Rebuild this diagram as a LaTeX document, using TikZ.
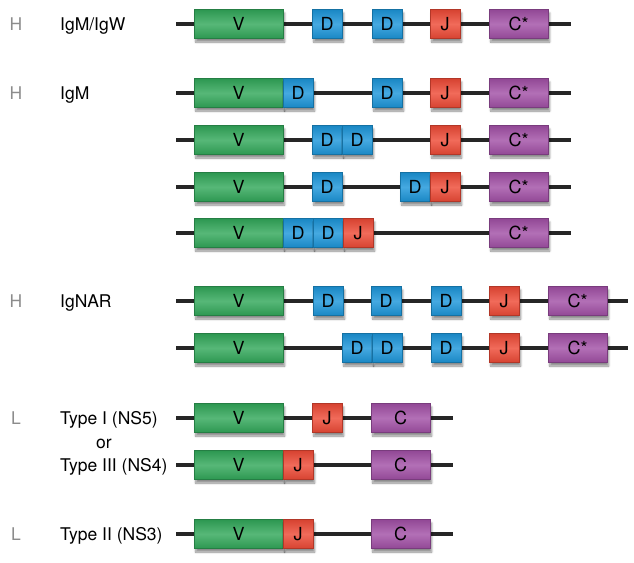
\documentclass[tikz,border=0pt]{standalone}
\usepackage{fontspec}
\setmainfont{TeX Gyre Heros}
\usetikzlibrary{shadows.blur}
\definecolor{vgreen}{RGB}{50,168,90}
\definecolor{dblue}{RGB}{28,150,218}
\definecolor{jred}{RGB}{238,74,54}
\definecolor{cpurple}{RGB}{162,80,166}
\begin{document}
\begin{tikzpicture}[x=1pt,y=-1pt,
		seg/.style={minimum height=29pt, inner sep=0pt, anchor=west, draw=#1!75!black, line width=0.4pt,
			top color=#1!90!black, bottom color=#1!90!black, middle color=#1!82!white,
			blur shadow={shadow xshift=1.5pt, shadow yshift=-3.5pt, shadow blur steps=7, shadow opacity=45},
			font=\fontsize{18}{18}\selectfont},
		vseg/.style={seg=vgreen, minimum width=89pt},
		dseg/.style={seg=dblue, minimum width=30pt},
		jseg/.style={seg=jred, minimum width=30pt},
		cseg/.style={seg=cpurple, minimum width=59pt},
		backbone/.style={line width=3.6pt, color=black!85},
		chain/.style={anchor=base west, inner sep=0pt, font=\fontsize{17.5}{20}\selectfont},
		locus/.style={anchor=base, inner sep=0pt, text=black!45, font=\fontsize{17.5}{20}\selectfont}]
	\useasboundingbox (0,0) rectangle (634,562);
	% row 1: IgM/IgW
	\coordinate (r1s) at (176,24); \coordinate (r1e) at (571,24);
	\draw[backbone] (r1s) -- (r1e);
	\node[vseg] (r1v) at (194,24) {V};
	\node[dseg] (r1d1) at (312,24) {D};
	\node[dseg] (r1d2) at (372,24) {D};
	\node[jseg] (r1j) at (430,24) {J};
	\node[cseg] (r1c) at (489,24) {C*};
	\node[locus] (h1) at (16,30) {H};
	\node[chain] (n1) at (60,30) {IgM/IgW};
	% rows 2-5: IgM
	\coordinate (r2s) at (176,93); \coordinate (r2e) at (571,93);
	\draw[backbone] (r2s) -- (r2e);
	\node[vseg] (r2v) at (194,93) {V};
	\node[dseg] (r2d1) at (283,93) {D};
	\node[dseg] (r2d2) at (372,93) {D};
	\node[jseg] (r2j) at (430,93) {J};
	\node[cseg] (r2c) at (489,93) {C*};
	\node[locus] (h2) at (16,99) {H};
	\node[chain] (n2) at (60,99) {IgM};
	\coordinate (r3s) at (176,140); \coordinate (r3e) at (571,140);
	\draw[backbone] (r3s) -- (r3e);
	\node[vseg] (r3v) at (194,140) {V};
	\node[dseg] (r3d1) at (312,140) {D};
	\node[dseg] (r3d2) at (342,140) {D};
	\node[jseg] (r3j) at (430,140) {J};
	\node[cseg] (r3c) at (489,140) {C*};
	\coordinate (r4s) at (176,187); \coordinate (r4e) at (571,187);
	\draw[backbone] (r4s) -- (r4e);
	\node[vseg] (r4v) at (194,187) {V};
	\node[dseg] (r4d1) at (312,187) {D};
	\node[dseg] (r4d2) at (400,187) {D};
	\node[jseg] (r4j) at (430,187) {J};
	\node[cseg] (r4c) at (489,187) {C*};
	\coordinate (r5s) at (176,233); \coordinate (r5e) at (571,233);
	\draw[backbone] (r5s) -- (r5e);
	\node[vseg] (r5v) at (194,233) {V};
	\node[dseg] (r5d1) at (283,233) {D};
	\node[dseg] (r5d2) at (313,233) {D};
	\node[jseg] (r5j) at (343,233) {J};
	\node[cseg] (r5c) at (489,233) {C*};
	% rows 6-7: IgNAR
	\coordinate (r6s) at (176,301); \coordinate (r6e) at (628,301);
	\draw[backbone] (r6s) -- (r6e);
	\node[vseg] (r6v) at (194,301) {V};
	\node[dseg] (r6d1) at (313,301) {D};
	\node[dseg] (r6d2) at (371,301) {D};
	\node[dseg] (r6d3) at (431,301) {D};
	\node[jseg] (r6j) at (489,301) {J};
	\node[cseg] (r6c) at (548,301) {C*};
	\node[locus] (h3) at (16,307) {H};
	\node[chain] (n3) at (60,307) {IgNAR};
	\coordinate (r7s) at (176,348); \coordinate (r7e) at (628,348);
	\draw[backbone] (r7s) -- (r7e);
	\node[vseg] (r7v) at (194,348) {V};
	\node[dseg] (r7d1) at (342,348) {D};
	\node[dseg] (r7d2) at (372,348) {D};
	\node[dseg] (r7d3) at (431,348) {D};
	\node[jseg] (r7j) at (489,348) {J};
	\node[cseg] (r7c) at (548,348) {C*};
	% rows 8-10: light chains
	\coordinate (r8s) at (176,418); \coordinate (r8e) at (453,418);
	\draw[backbone] (r8s) -- (r8e);
	\node[vseg] (r8v) at (194,418) {V};
	\node[jseg] (r8j) at (312,418) {J};
	\node[cseg] (r8c) at (371,418) {C};
	\node[locus] (l1) at (16,424) {L};
	\node[chain] (n4) at (60,424) {Type I (NS5)};
	\node[anchor=base, inner sep=0pt, font=\fontsize{17.5}{20}\selectfont] (or) at (104,448) {or};
	\coordinate (r9s) at (176,465); \coordinate (r9e) at (453,465);
	\draw[backbone] (r9s) -- (r9e);
	\node[vseg] (r9v) at (194,465) {V};
	\node[jseg] (r9j) at (283,465) {J};
	\node[cseg] (r9c) at (371,465) {C};
	\node[chain] (n5) at (60,471) {Type III (NS4)};
	\coordinate (r10s) at (176,534); \coordinate (r10e) at (453,534);
	\draw[backbone] (r10s) -- (r10e);
	\node[vseg] (r10v) at (194,534) {V};
	\node[jseg] (r10j) at (283,534) {J};
	\node[cseg] (r10c) at (371,534) {C};
	\node[locus] (l2) at (16,540) {L};
	\node[chain] (n6) at (60,540) {Type II (NS3)};
\end{tikzpicture}
\end{document}
